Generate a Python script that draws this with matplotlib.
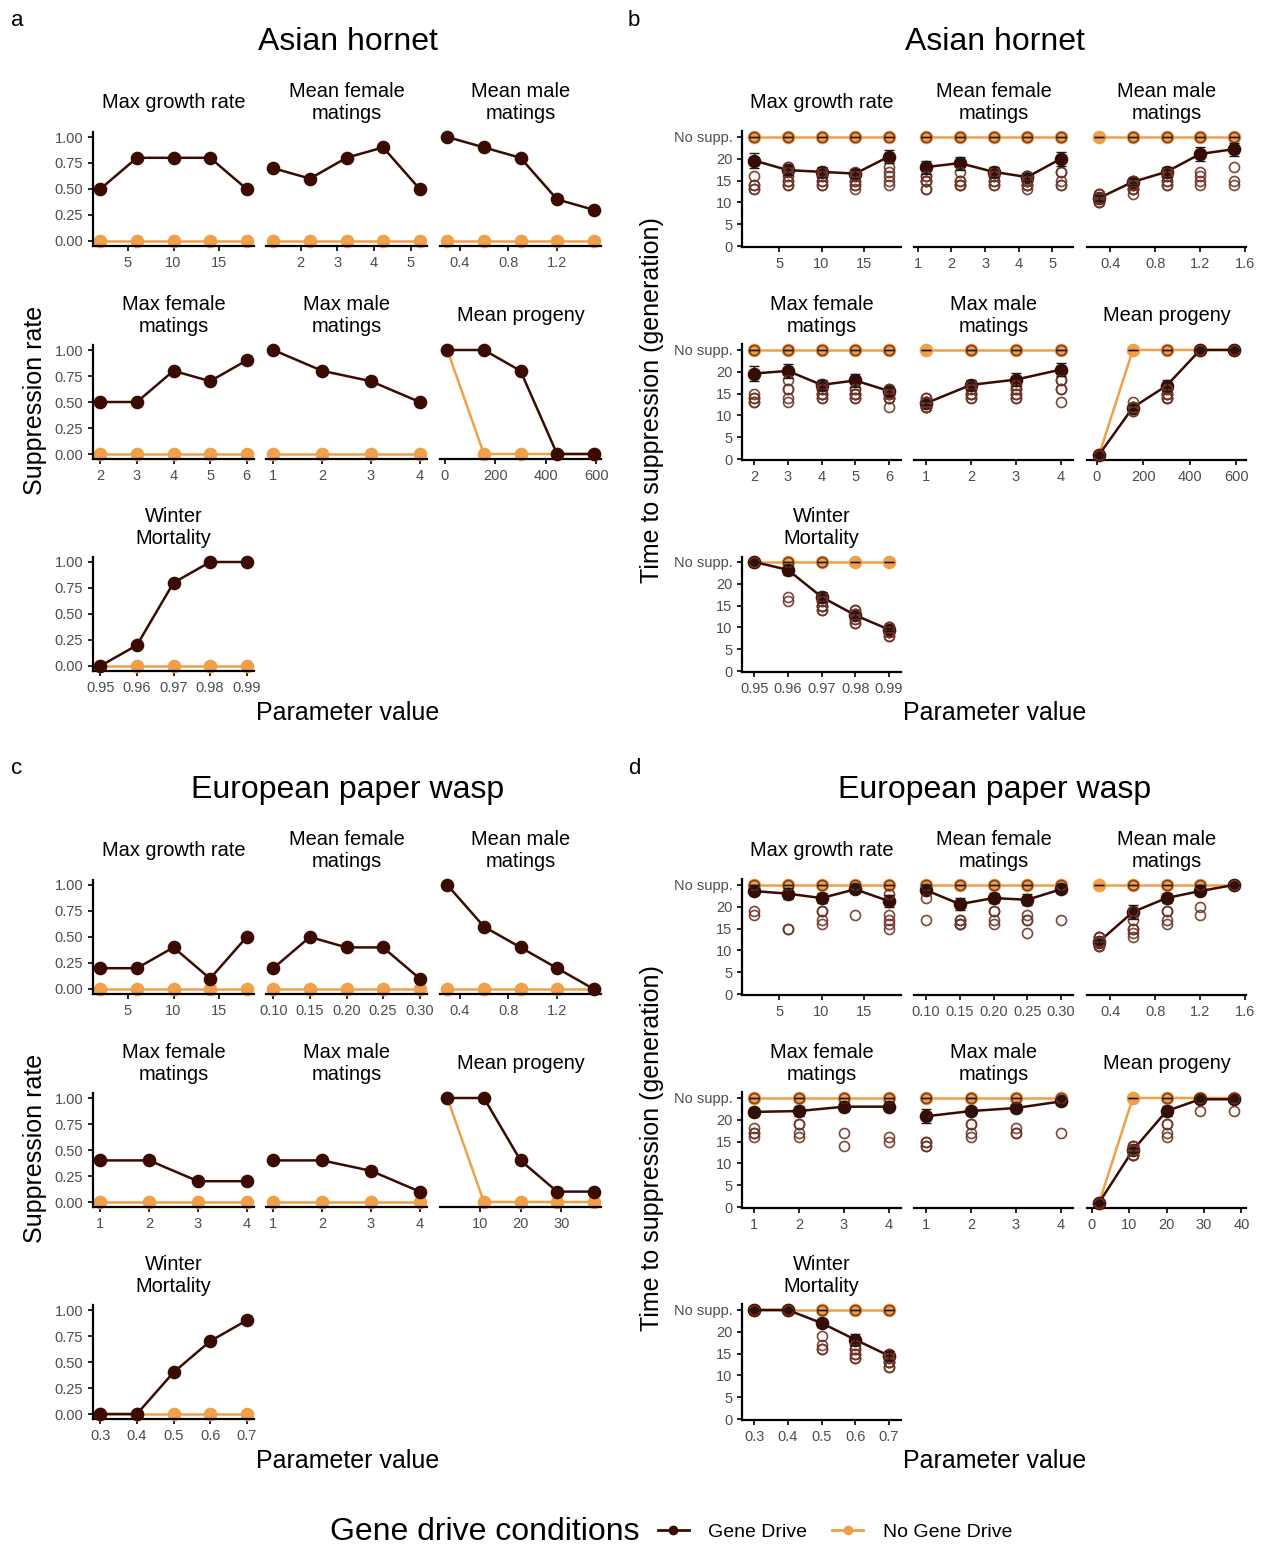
import numpy as np
import matplotlib
matplotlib.use("Agg")
import matplotlib.pyplot as plt
from matplotlib.lines import Line2D

plt.rcParams['font.family'] = ['Liberation Sans', 'DejaVu Sans']

# ---------------- data ----------------
params = ["Max growth rate", "Mean female\nmatings", "Mean male\nmatings",
          "Max female\nmatings", "Max male\nmatings", "Mean progeny",
          "Winter\nMortality"]

# Asian hornet
ah_x = [
    [2, 6, 10, 14, 18],
    [1.25, 2.25, 3.25, 4.25, 5.25],
    [0.3, 0.6, 0.9, 1.2, 1.5],
    [2, 3, 4, 5, 6],
    [1, 2, 3, 4],
    [10, 155, 300, 445, 590],
    [0.95, 0.96, 0.97, 0.98, 0.99],
]
ah_rate_gd = [
    [0.5, 0.8, 0.8, 0.8, 0.5],
    [0.7, 0.6, 0.8, 0.9, 0.5],
    [1.0, 0.9, 0.8, 0.4, 0.3],
    [0.5, 0.5, 0.8, 0.7, 0.9],
    [1.0, 0.8, 0.7, 0.5],
    [1.0, 1.0, 0.8, 0.0, 0.0],
    [0.0, 0.2, 0.8, 1.0, 1.0],
]
ah_rate_ngd = [
    [0, 0, 0, 0, 0],
    [0, 0, 0, 0, 0],
    [0, 0, 0, 0, 0],
    [0, 0, 0, 0, 0],
    [0, 0, 0, 0],
    [1, 0, 0, 0, 0],
    [0, 0, 0, 0, 0],
]
ah_time_gd = [
    [19.6, 17.4, 17.0, 16.6, 20.5],
    [18.1, 19.0, 17.0, 15.8, 20.0],
    [11.0, 14.7, 17.0, 21.1, 22.2],
    [19.6, 20.2, 17.0, 18.0, 15.6],
    [12.8, 17.0, 18.2, 20.5],
    [1.0, 11.8, 16.8, 25, 25],
    [25, 23.2, 17.0, 12.8, 9.5],
]
ah_se_gd = [
    [1.8, 1.2, 1.1, 1.1, 1.5],
    [1.5, 1.5, 1.1, 0.8, 1.6],
    [0.6, 0.8, 1.2, 1.5, 1.5],
    [1.8, 1.6, 1.1, 1.4, 1.0],
    [0.5, 1.2, 1.5, 1.5],
    [0, 0.6, 1.2, 0, 0],
    [0, 1.2, 1.2, 0.6, 0.4],
]
ah_time_ngd = [
    [25, 25, 25, 25, 25],
    [25, 25, 25, 25, 25],
    [25, 25, 25, 25, 25],
    [25, 25, 25, 25, 25],
    [25, 25, 25, 25],
    [1, 25, 25, 25, 25],
    [25, 25, 25, 25, 25],
]
# individual suppressed runs (gene drive)
ah_runs = [
    [[13, 13, 14, 14, 16], [14, 14, 15, 15, 16, 17, 18, 18], [14, 14, 15, 15, 16, 16, 17, 17],
     [13, 14, 14, 15, 15, 16, 16, 17], [14, 15, 16, 17, 18]],
    [[13, 15, 15, 16, 16, 15, 13], [14, 14, 15, 17, 15, 14], [14, 14, 15, 15, 16, 16, 17, 17],
     [13, 14, 14, 15, 15, 16, 16, 15, 14], [14, 14, 15, 17, 17]],
    [[10, 10, 11, 11, 12, 12, 11, 10, 11, 12], [12, 13, 13, 14, 14, 15, 15, 14, 13],
     [14, 14, 15, 15, 16, 16, 17, 17], [14, 15, 16, 17], [14, 15, 18]],
    [[13, 14, 15, 14, 13], [13, 14, 16, 18, 16], [14, 14, 15, 15, 16, 16, 17, 15],
     [14, 15, 15, 16, 16, 14, 15], [12, 14, 14, 15, 15, 16, 16, 14, 15]],
    [[12, 12, 13, 13, 14, 12, 13, 14, 12, 13], [14, 15, 15, 16, 16, 17, 14, 15],
     [14, 15, 15, 16, 16, 17, 14], [13, 16, 16, 18, 18]],
    [[1], [11, 11, 12, 12, 13], [14, 14, 15, 15, 16, 16, 14, 15], [], []],
    [[], [16, 17], [14, 15, 15, 16, 16, 17, 14, 15], [11, 12, 12, 13, 13, 14, 11, 14],
     [8, 9, 9, 10, 10, 8, 9, 10]],
]
ah_ticks = [[5, 10, 15], [1, 2, 3, 4, 5], [0.4, 0.8, 1.2, 1.6], [2, 3, 4, 5, 6],
            [1, 2, 3, 4], [0, 200, 400, 600], [0.95, 0.96, 0.97, 0.98, 0.99]]
ah_fmt = ["{:g}", "{:g}", "{:.1f}", "{:g}", "{:g}", "{:g}", "{:.2f}"]

# European paper wasp
pw_x = [
    [2, 6, 10, 14, 18],
    [0.10, 0.15, 0.20, 0.25, 0.30],
    [0.3, 0.6, 0.9, 1.2, 1.5],
    [1, 2, 3, 4],
    [1, 2, 3, 4],
    [2, 11, 20, 29, 38],
    [0.3, 0.4, 0.5, 0.6, 0.7],
]
pw_rate_gd = [
    [0.2, 0.2, 0.4, 0.1, 0.5],
    [0.2, 0.5, 0.4, 0.4, 0.1],
    [1.0, 0.6, 0.4, 0.2, 0.0],
    [0.4, 0.4, 0.2, 0.2],
    [0.4, 0.4, 0.3, 0.1],
    [1.0, 1.0, 0.4, 0.1, 0.1],
    [0.0, 0.0, 0.4, 0.7, 0.9],
]
pw_rate_ngd = [
    [0, 0, 0, 0, 0],
    [0, 0, 0, 0, 0],
    [0, 0, 0, 0, 0],
    [0, 0, 0, 0],
    [0, 0, 0, 0],
    [1, 0, 0, 0, 0],
    [0, 0, 0, 0, 0],
]
pw_time_gd = [
    [23.6, 23.0, 22.0, 24.0, 21.3],
    [23.8, 20.6, 22.0, 21.6, 24.0],
    [12.0, 18.8, 22.0, 23.6, 25],
    [21.8, 22.0, 23.0, 23.0],
    [20.8, 22.0, 22.7, 24.2],
    [1.0, 13.0, 22.0, 24.7, 24.7],
    [25, 25, 22.0, 18.2, 14.5],
]
pw_se_gd = [
    [0.7, 1.2, 1.1, 0.6, 1.3],
    [0.6, 1.3, 1.1, 1.3, 0.8],
    [0.3, 1.7, 1.1, 0.9, 0],
    [1.0, 1.1, 1.0, 1.0],
    [1.6, 1.0, 1.0, 0.8],
    [0, 0.5, 1.2, 0.3, 0.3],
    [0, 0, 1.0, 1.3, 1.0],
]
pw_time_ngd = [
    [25, 25, 25, 25, 25],
    [25, 25, 25, 25, 25],
    [25, 25, 25, 25, 25],
    [25, 25, 25, 25],
    [25, 25, 25, 25],
    [1, 25, 25, 25, 25],
    [25, 25, 25, 25, 25],
]
pw_runs = [
    [[18, 19], [15, 15], [16, 17, 19, 19], [18], [15, 16, 17, 18, 23]],
    [[17, 22], [16, 17, 16, 17, 16], [16, 17, 19, 19], [14, 17, 18, 17], [17]],
    [[11, 12, 13, 12, 11, 13, 12, 12, 11, 13], [13, 14, 15, 15, 17, 19], [16, 17, 19, 19], [18, 20], []],
    [[16, 17, 18, 17], [16, 17, 19, 19], [14, 17], [15, 16]],
    [[14, 15, 15, 14], [16, 17, 19, 19], [17, 18, 17], [17]],
    [[1], [12, 13, 14, 13, 12, 14, 13, 12, 14, 13], [16, 17, 19, 19], [22], [22]],
    [[], [], [16, 17, 19, 16], [14, 15, 16, 17, 15, 14, 16], [12, 13, 14, 15, 13, 12, 14, 15, 13]],
]
pw_ticks = [[5, 10, 15], [0.10, 0.15, 0.20, 0.25, 0.30], [0.4, 0.8, 1.2, 1.6],
            [1, 2, 3, 4], [1, 2, 3, 4], [0, 10, 20, 30, 40], [0.3, 0.4, 0.5, 0.6, 0.7]]
pw_fmt = ["{:g}", "{:.2f}", "{:.1f}", "{:g}", "{:g}", "{:g}", "{:.1f}"]

rate_ticks = [0, 0.25, 0.5, 0.75, 1.0]
time_ticks = [0, 5, 10, 15, 20, 25]
time_labels = ["0", "5", "10", "15", "20", "No supp."]

# ---------------- style ----------------
GD = "#3b0b02"
NGD = "#f0a048"
RUN = "#6e3528"
TICKC = "#4d4d4d"
W, H = 1272, 1545

fig = plt.figure(figsize=(W / 100, H / 100), dpi=100)


def add_ax(left, top, w, h):
    return fig.add_axes([left / W, 1 - (top + h) / H, w / W, h / H])


def style_ax(ax, first_col):
    for s in ["top", "right"]:
        ax.spines[s].set_visible(False)
    ax.spines["bottom"].set_linewidth(1.6)
    ax.spines["left"].set_linewidth(1.6)
    ax.tick_params(axis="both", length=3.5, width=1.2, color="black",
                   labelcolor=TICKC, labelsize=10.5, pad=3.5)
    if not first_col:
        ax.spines["left"].set_visible(False)
        ax.tick_params(axis="y", left=False, labelleft=False)
    ax.set_facecolor("none")


def set_xticks(ax, ticks, fmt, lo, hi):
    t = [v for v in ticks if lo <= v <= hi]
    ax.set_xticks(t)
    ax.set_xticklabels([fmt.format(v) for v in t])


def strip_title(cx, top, text):
    fig.text(cx / W, 1 - (top - 29) / H, text, ha="center", va="center",
             fontsize=14.4, linespacing=1.2)


def rate_panel(xs, rgd, rngd, ticks, fmts, y0):
    lefts = [93, 266, 440]
    tops = [131.8, 344.8, 556.8]
    for i in range(7):
        r, c = divmod(i, 3)
        ax = add_ax(lefts[c], tops[r] + y0, 161, 114.4)
        style_ax(ax, c == 0)
        x = np.array(xs[i], dtype=float)
        rng = x.max() - x.min()
        lo, hi = x.min() - 0.05 * rng, x.max() + 0.05 * rng
        ax.plot(x, rngd[i], color=NGD, lw=1.8, marker="o", ms=8.8, zorder=2, clip_on=False)
        ax.plot(x, rgd[i], color=GD, lw=1.8, marker="o", ms=8.8, zorder=3, clip_on=False)
        ax.set_xlim(lo, hi)
        ax.set_ylim(-0.05, 1.05)
        ax.set_yticks(rate_ticks)
        ax.set_yticklabels(["{:.2f}".format(v) for v in rate_ticks])
        set_xticks(ax, ticks[i], fmts[i], lo, hi)
        strip_title(lefts[c] + 80.5, tops[r] + y0, params[i])


def time_panel(xs, rgd, tgd, sgd, tngd, runs, ticks, fmts, y0):
    lefts = [742, 914, 1087]
    tops = [131.5, 344.5, 556.5]
    for i in range(7):
        r, c = divmod(i, 3)
        ax = add_ax(lefts[c], tops[r] + y0, 159, 115.6)
        style_ax(ax, c == 0)
        x = np.array(xs[i], dtype=float)
        rng = x.max() - x.min()
        lo, hi = x.min() - 0.09 * rng, x.max() + 0.09 * rng
        ax.plot(x, tngd[i], color=NGD, lw=1.8, marker="o", ms=8.8, zorder=2, clip_on=False)
        ax.plot(x, tgd[i], color=GD, lw=1.8, marker="o", ms=8.8, zorder=3, clip_on=False)
        # individual runs: suppressed ones + one marker for unsuppressed runs
        for xv, rate, rr in zip(x, rgd[i], runs[i]):
            ys = list(rr)
            if rate < 1:
                ys.append(25)
            ax.plot([xv] * len(ys), ys, ls="none", marker="o", ms=7.2, mfc="none",
                    mec=RUN, mew=1.2, alpha=0.9, zorder=4, clip_on=False)
        ax.errorbar(x, tgd[i], yerr=sgd[i], fmt="none", ecolor="#1a1a1a", elinewidth=1,
                    capsize=3.5, capthick=1, zorder=5, clip_on=False)
        ax.errorbar(x, tngd[i], yerr=np.zeros(len(x)), fmt="none", ecolor="#1a1a1a",
                    elinewidth=1, capsize=3.5, capthick=1, zorder=5, clip_on=False)
        ax.set_xlim(lo, hi)
        ax.set_ylim(-0.25, 26.25)
        ax.set_yticks(time_ticks)
        ax.set_yticklabels(time_labels)
        set_xticks(ax, ticks[i], fmts[i], lo, hi)
        strip_title(lefts[c] + 79.5, tops[r] + y0, params[i])


blocks = [
    ("Asian hornet", ah_x, ah_rate_gd, ah_rate_ngd, ah_time_gd, ah_se_gd, ah_time_ngd,
     ah_runs, ah_ticks, ah_fmt, 0, "a", "b"),
    ("European paper wasp", pw_x, pw_rate_gd, pw_rate_ngd, pw_time_gd, pw_se_gd, pw_time_ngd,
     pw_runs, pw_ticks, pw_fmt, 748, "c", "d"),
]

for (name, xs, rgd, rngd, tgd, sgd, tngd, runs, ticks, fmts, y0, la, lb) in blocks:
    rate_panel(xs, rgd, rngd, ticks, fmts, y0)
    time_panel(xs, rgd, tgd, sgd, tngd, runs, ticks, fmts, y0)
    for cx in (348, 995):
        fig.text(cx / W, 1 - (42 + y0) / H, name, ha="center", va="center", fontsize=23)
        fig.text(cx / W, 1 - (713 + y0) / H, "Parameter value", ha="center", va="center",
                 fontsize=18)
    fig.text(17 / W, 1 - (20 + y0) / H, la, ha="center", va="center", fontsize=16)
    fig.text(634 / W, 1 - (20 + y0) / H, lb, ha="center", va="center", fontsize=16)
    fig.text(35 / W, 1 - (400 + y0) / H, "Suppression rate", ha="center", va="center",
             rotation=90, fontsize=18)
    fig.text(652 / W, 1 - (400 + y0) / H, "Time to suppression (generation)", ha="center",
             va="center", rotation=90, fontsize=18)

# legend
fig.text(330 / W, 1 - 1532 / H, "Gene drive conditions", ha="left", va="center", fontsize=23)
handles = [Line2D([], [], color=GD, lw=2, marker="o", ms=6),
           Line2D([], [], color=NGD, lw=2, marker="o", ms=6)]
fig.legend(handles, ["Gene Drive", "No Gene Drive"], loc="center left",
           bbox_to_anchor=(640 / W, 1 - 1532 / H), ncol=2, frameon=False, fontsize=14,
           handlelength=1.6, columnspacing=1.3, handletextpad=1.0)

fig.savefig("out.png", dpi=100)
